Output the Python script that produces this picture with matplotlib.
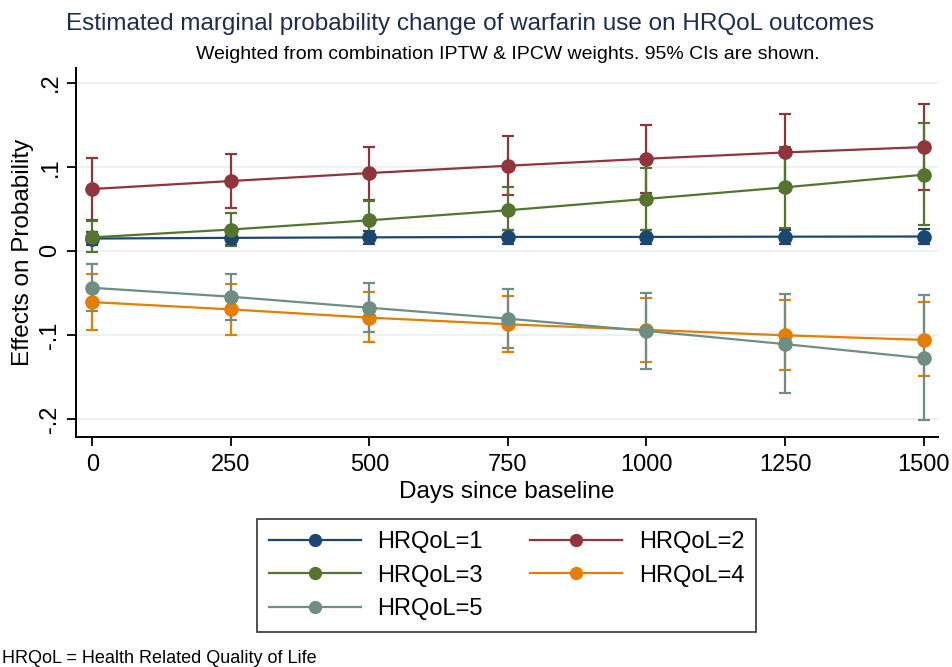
import numpy as np
import matplotlib
matplotlib.use("Agg")
import matplotlib.pyplot as plt

plt.rcParams["font.family"] = ["Liberation Sans", "DejaVu Sans"]

days = [0, 250, 500, 750, 1000, 1250, 1500]
labels = ["HRQoL=1", "HRQoL=2", "HRQoL=3", "HRQoL=4", "HRQoL=5"]
colors = ["#1a476f", "#90353b", "#55752f", "#e37e00", "#6e8e84"]

# point estimates
est1 = [0.0146, 0.0154, 0.016, 0.0165, 0.0165, 0.0168, 0.0170]
est2 = [0.0735, 0.083, 0.0925, 0.1012, 0.1095, 0.117, 0.1234]
est3 = [0.016, 0.0253, 0.0363, 0.0482, 0.0617, 0.0755, 0.0905]
est4 = [-0.061, -0.0697, -0.0795, -0.0874, -0.094, -0.1005, -0.106]
est5 = [-0.044, -0.0546, -0.0677, -0.0807, -0.0953, -0.111, -0.1278]

# lower / upper 95% CI bounds
lo1 = [0.0066, 0.0074, 0.008, 0.0085, 0.0082, 0.0083, 0.0078]
hi1 = [0.0225, 0.0234, 0.024, 0.0245, 0.0248, 0.0253, 0.0262]
lo2 = [0.037, 0.0514, 0.061, 0.0664, 0.069, 0.071, 0.0719]
hi2 = [0.110, 0.115, 0.124, 0.1364, 0.150, 0.1629, 0.1747]
lo3 = [-0.002, 0.0055, 0.013, 0.0253, 0.0253, 0.0273, 0.0304]
hi3 = [0.035, 0.0454, 0.0597, 0.0755, 0.098, 0.124, 0.1518]
lo4 = [-0.094, -0.1005, -0.109, -0.120, -0.132, -0.1416, -0.1495]
hi4 = [-0.028, -0.040, -0.0487, -0.0534, -0.0562, -0.0586, -0.061]
lo5 = [-0.072, -0.082, -0.0965, -0.1155, -0.1408, -0.169, -0.2013]
hi5 = [-0.016, -0.028, -0.0388, -0.046, -0.0499, -0.0518, -0.0527]

ests = [est1, est2, est3, est4, est5]
los = [lo1, lo2, lo3, lo4, lo5]
his = [hi1, hi2, hi3, hi4, hi5]

fig = plt.figure(figsize=(9.52, 6.67), dpi=100)
ax = fig.add_axes([0.0798, 0.3448, 0.9055, 0.5532])

handles = []
for e, lo, hi, c, lab in zip(ests, los, his, colors, labels):
    e = np.array(e)
    err = [e - np.array(lo), np.array(hi) - e]
    ax.errorbar(days, e, yerr=err, fmt="none", ecolor=c, elinewidth=1.6,
                capsize=4.5, capthick=1.6, zorder=2)
    h, = ax.plot(days, e, color=c, lw=1.6, marker="o", ms=9.5, label=lab, zorder=3)
    handles.append(h)

ax.set_xlim(-29.4, 1526)
ax.set_ylim(-0.2215, 0.2174)
ax.set_xticks(days)
ax.set_yticks([0.2, 0.1, 0, -0.1, -0.2])
ax.set_yticklabels([".2", ".1", "0", "-.1", "-.2"], rotation=90, va="center")
ax.grid(axis="y", color="#eaf2f3", lw=1.5)
ax.set_axisbelow(True)
for s in ["top", "right"]:
    ax.spines[s].set_visible(False)
ax.spines["left"].set_linewidth(1.4)
ax.spines["bottom"].set_linewidth(1.4)
ax.tick_params(direction="out", length=6.5, width=1.3, labelsize=17, pad=4)
ax.tick_params(axis="x", pad=6)
ax.set_xlabel("Days since baseline", fontsize=17.5, labelpad=3)
ax.set_ylabel("Effects on Probability", fontsize=17.5, labelpad=4)

fig.text(0.494, 0.964, "Estimated marginal probability change of warfarin use on HRQoL outcomes",
         ha="center", va="center", fontsize=17.5, color="#1c2d52")
fig.text(0.533, 0.918, "Weighted from combination IPTW & IPCW weights. 95% CIs are shown.",
         ha="center", va="center", fontsize=14, color="black")
fig.text(0.002, 0.013, "HRQoL = Health Related Quality of Life", ha="left", va="center",
         fontsize=13, color="black")

# legend filled row by row like the original
order = [0, 2, 4, 1, 3]
leg = fig.legend([handles[i] for i in order], [labels[i] for i in order],
                 loc="center", bbox_to_anchor=(0.532, 0.137), ncol=2, fontsize=17,
                 frameon=True, fancybox=False, edgecolor="black", handlelength=3.9,
                 handletextpad=0.7, columnspacing=2.0, markerscale=0.9,
                 borderpad=0.5, labelspacing=0.48)
leg.get_frame().set_linewidth(1.2)

fig.savefig("out.png", dpi=100)
